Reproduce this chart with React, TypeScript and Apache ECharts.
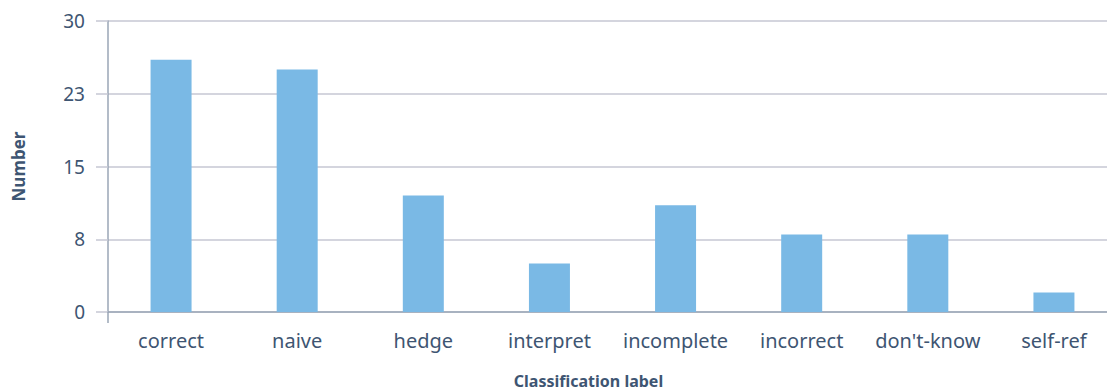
import React, { useEffect, useRef } from "react";
import * as echarts from "echarts";

const categories = ["correct", "naive", "hedge", "interpret", "incomplete", "incorrect", "don't-know", "self-ref"];
const values = [26, 25, 12, 5, 11, 8, 8, 2];
const yTicks = [0, 7.5, 15, 22.5, 30];

const textColor = "#3e5572";
const font = "'Noto Sans', sans-serif";

export default function App() {
  const ref = useRef<HTMLDivElement>(null);
  useEffect(() => {
    if (!ref.current) return;
    const chart = echarts.init(ref.current, null, { renderer: "svg" });
    chart.setOption({
      animation: false,
      grid: { left: 108, right: -10, top: 21, bottom: 80, containLabel: false, outerBoundsMode: "none" },
      xAxis: {
        type: "category",
        data: categories,
        name: "Classification label",
        nameLocation: "middle",
        nameGap: 61,
        nameTextStyle: { color: textColor, fontSize: 16, fontWeight: "bold", fontFamily: font, padding: [0, 48, 0, 0] },
        axisLine: { show: true, lineStyle: { color: "#9aa6b6", width: 1.5 } },
        axisTick: { show: true, length: 11, interval: (i: number) => i === 0, lineStyle: { color: "#9aa6b6", width: 1.5 } },
        axisLabel: { color: textColor, fontSize: 20, fontFamily: font, margin: 18, interval: 0 },
      },
      yAxis: {
        type: "value",
        min: yTicks[0],
        max: yTicks[yTicks.length - 1],
        interval: 7.5,
        name: "Number",
        nameLocation: "middle",
        nameGap: 81,
        nameTextStyle: { color: textColor, fontSize: 17, fontWeight: "bold", fontFamily: font },
        axisLine: { show: true, lineStyle: { color: "#9aa6b6", width: 1.5 } },
        axisTick: { show: true, length: 12, lineStyle: { color: "#c6c7d3", width: 1.5 } },
        splitLine: { show: true, lineStyle: { color: "#c6c7d3", width: 1.5 } },
        axisLabel: {
          color: textColor,
          fontSize: 19,
          fontFamily: font,
          margin: 23,
          formatter: (v: number) => String(Math.round(v)),
        },
      },
      series: [
        {
          type: "bar",
          data: values,
          barWidth: 41,
          itemStyle: { color: "#7ab9e5" },
        },
      ],
    });
    return () => chart.dispose();
  }, []);
  return <div ref={ref} style={{ width: 1107, height: 392, position: "absolute", left: 0, top: 0 }} />;
}
